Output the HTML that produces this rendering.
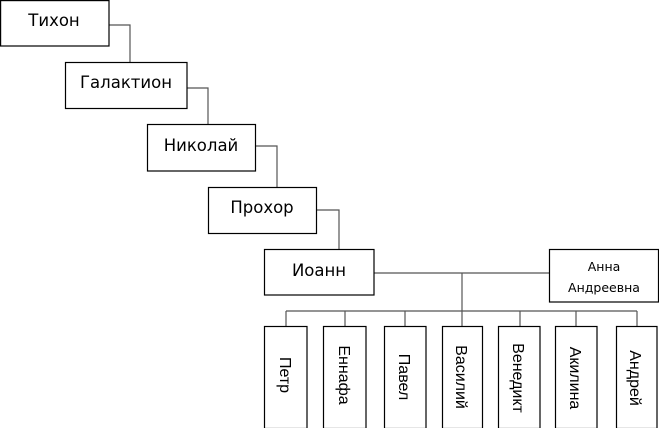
<!DOCTYPE html>
<html><head><meta charset="utf-8"><style>
html,body{margin:0;padding:0;background:#fff;}
svg{display:block;}
text{font-family:"Liberation Sans","DejaVu Sans",sans-serif;fill:#000;}
.dv{font-family:"DejaVu Sans","Liberation Sans",sans-serif;}
</style></head><body>
<svg width="659" height="428" viewBox="0 0 659 428" xmlns="http://www.w3.org/2000/svg">
<g fill="none" stroke="#555" stroke-width="1.2">
<polyline points="109,25 130,25 130,62"/>
<polyline points="187,88 208,88 208,124"/>
<polyline points="255,146 277,146 277,187"/>
<polyline points="316,210 339,210 339,249"/>
<line x1="374" y1="273" x2="549" y2="273"/>
<line x1="462" y1="273" x2="462" y2="311"/>
<line x1="286" y1="311" x2="637" y2="311"/>
<line x1="286" y1="311" x2="286" y2="326"/>
<line x1="345" y1="311" x2="345" y2="326"/>
<line x1="405" y1="311" x2="405" y2="326"/>
<line x1="462" y1="311" x2="462" y2="326"/>
<line x1="520" y1="311" x2="520" y2="326"/>
<line x1="576" y1="311" x2="576" y2="326"/>
<line x1="637" y1="311" x2="637" y2="326"/>
</g>
<g fill="#fff" stroke="#000" stroke-width="1.2">
<rect x="0.6" y="0.6" width="108.4" height="45.4"/>
<rect x="65.5" y="62.5" width="121.5" height="46"/>
<rect x="147.5" y="124.5" width="108" height="46.5"/>
<rect x="208.5" y="187.5" width="108" height="46"/>
<rect x="264.5" y="249.5" width="109.5" height="45.5"/>
<rect x="549.5" y="249.5" width="109" height="52.5"/>
<rect x="264.5" y="326.5" width="42.5" height="102"/>
<rect x="323.5" y="326.5" width="42.5" height="102"/>
<rect x="384.5" y="326.5" width="41.5" height="102"/>
<rect x="442.5" y="326.5" width="40" height="102"/>
<rect x="498.5" y="326.5" width="41.5" height="102"/>
<rect x="555.5" y="326.5" width="41.5" height="102"/>
<rect x="616.5" y="326.5" width="40.5" height="102"/>
</g>
<g class="dv" font-size="16.5" text-anchor="middle">
<text class="dv" x="54" y="26">Тихон</text>
<text class="dv" x="126" y="88">Галактион</text>
<text class="dv" x="201" y="151">Николай</text>
<text class="dv" x="262" y="213">Прохор</text>
<text class="dv" x="319" y="276">Иоанн</text>
</g>
<g font-size="12.5" text-anchor="middle">
<text class="dv" x="604" y="271">Анна</text>
<text class="dv" x="604" y="292">Андреевна</text>
</g>
<g font-size="16" text-anchor="middle">
<text transform="translate(280,375) rotate(90)">Петр</text>
<text transform="translate(339,375) rotate(90)">Еннафа</text>
<text transform="translate(399,377) rotate(90)">Павел</text>
<text transform="translate(456,377) rotate(90)">Василий</text>
<text transform="translate(513,378) rotate(90)">Венедикт</text>
<text transform="translate(570,378) rotate(90)">Акилина</text>
<text transform="translate(630,378) rotate(90)">Андрей</text>
</g>
</svg>
</body></html>
